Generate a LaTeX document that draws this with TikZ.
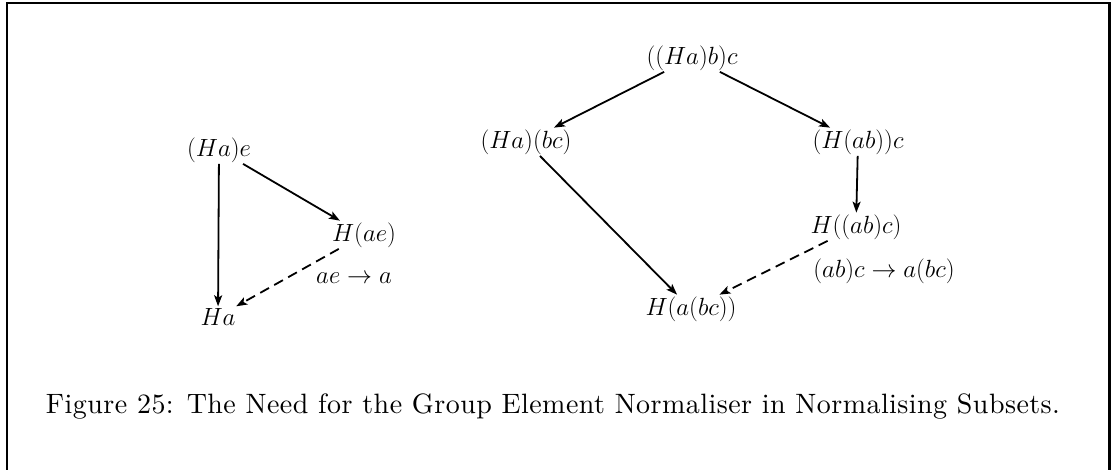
\documentclass[tikz,border=0pt]{standalone}
\usepackage{fontspec}
\newfontfamily\capfont{lmroman10-regular.otf}[LetterSpace=1.6]
\usetikzlibrary{arrows.meta}
\begin{document}
\begin{tikzpicture}[x=1pt,y=-1pt,
  term/.style={anchor=base,inner sep=1.5pt,font=\fontsize{25}{30}\selectfont},
  lab/.style={anchor=base,inner sep=0pt,font=\fontsize{25}{30}\selectfont},
  arr/.style={line width=1.8pt,-{Stealth[length=11pt,width=8pt,inset=2.5pt]}},
  darr/.style={arr,dash pattern=on 10pt off 6pt},
  frame/.style={line width=2.6pt}]
\useasboundingbox (0,0) rectangle (1114,469);
\clip (0,0) rectangle (1114,469);
\draw[frame] (7,3) rectangle (1109.5,490);
% left diagram
\node[term] (hae) at (219,156) {$(Ha)e$};
\node[term] (hAE) at (364,241) {$H(ae)$};
\node[term] (ha) at (218,325) {$Ha$};
\node[lab] (l1) at (354,283) {$ae\to a$};
\draw[arr] (hae) -- (ha);
\draw[arr] (hae) -- (hAE);
\draw[darr] (hAE) -- (ha);
% right diagram
\node[term] (top) at (692,64) {$((Ha)b)c$};
\node[term] (lft) at (526,148) {$(Ha)(bc)$};
\node[term] (rgt) at (858,148) {$(H(ab))c$};
\node[term] (mid) at (856,233) {$H((ab)c)$};
\node[term] (bot) at (691,315) {$H(a(bc))$};
\node[lab] (l2) at (884,277) {$(ab)c\to a(bc)$};
\draw[arr] (top) -- (lft);
\draw[arr] (top) -- (rgt);
\draw[arr] (lft) -- (bot);
\draw[arr] (rgt) -- (mid);
\draw[darr] (mid) -- (bot);
% caption
\node[lab,font=\fontsize{28}{34}\capfont] (cap) at (553,413)
  {Figure 25: The Need for the Group Element Normaliser in Normalising Subsets.};
\end{tikzpicture}
\end{document}
